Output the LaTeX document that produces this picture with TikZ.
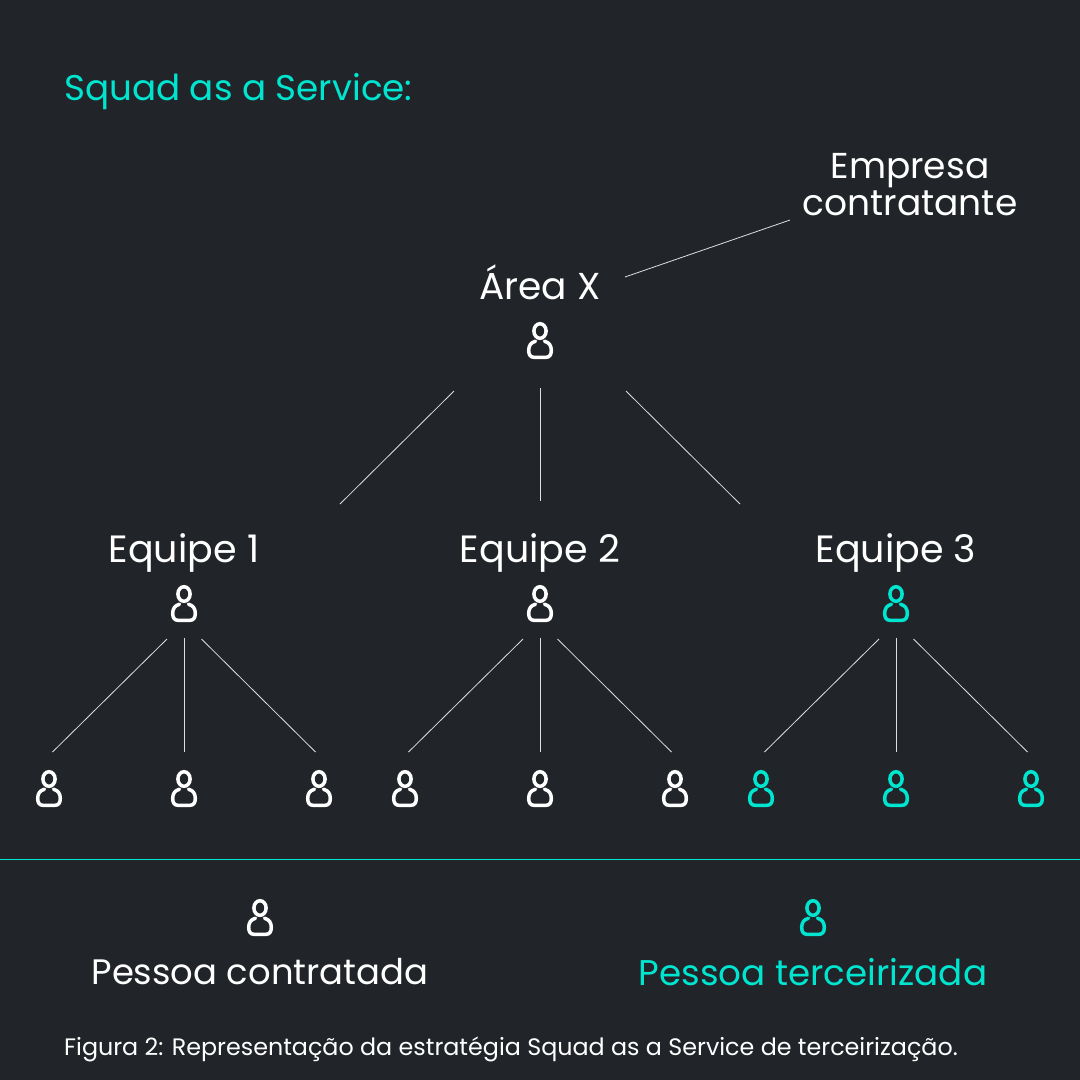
\documentclass[tikz,border=0pt]{standalone}
\usepackage{fontspec}
\setmainfont{Poppins}
\definecolor{bgdark}{HTML}{212529}
\definecolor{turq}{HTML}{00E5D0}
\tikzset{
  x=1pt,y=-1pt,
  label/.style={text=white,inner sep=0pt,font=\fontsize{35.7}{37}\selectfont,align=center},
  wire/.style={draw=white!85!bgdark,line width=0.8pt},
  person/.pic={
    \draw[line width=3.5pt,pic actions] (0,-11) ellipse (6.1 and 7.3);
    \draw[line width=3.5pt,line cap=round,line join=round,pic actions]
      (-4.5,-0.8) .. controls (-9.5,0.6) and (-11.3,4) .. (-11.3,8.5)
      .. controls (-11.3,12.8) and (-9.5,15.3) .. (-6,15.3) -- (6,15.3)
      .. controls (9.5,15.3) and (11.3,12.8) .. (11.3,8.5)
      .. controls (11.3,4) and (9.5,0.6) .. (4.5,-0.8);
  }
}
\begin{document}
\begin{tikzpicture}
  \useasboundingbox[fill=bgdark] (0,0) rectangle (1080,1080);
  \node[label,anchor=west,text=turq] (title) at (64,92) {Squad as a Service:};
  \node[label,font=\fontsize{36}{37}\selectfont] (empresa) at (910,185) {Empresa\\contratante};
  \node[label,font=\fontsize{37.5}{38}\selectfont] (area) at (540,282) {Área X};
  \node[label,font=\fontsize{38}{38}\selectfont] (eq1) at (184,553) {Equipe 1};
  \node[label,font=\fontsize{38}{38}\selectfont] (eq2) at (540,553) {Equipe 2};
  \node[label,font=\fontsize{38}{38}\selectfont] (eq3) at (896,553) {Equipe 3};
  \node[label,font=\fontsize{35.4}{37}\selectfont] (contratada) at (260,972) {Pessoa contratada};
  \node[label,text=turq] (terceirizada) at (813,972) {Pessoa terceirizada};
  \node[label,anchor=west,font=\fontsize{23.8}{26}\selectfont] (legenda) at (64,1049) {Figura 2: Representação da estratégia Squad as a Service de terceirização.};
  % people
  \foreach \px/\py/\pc in {540/342/white,184/605/white,540/605/white,896/605/turq,
    49/790/white,184/790/white,319/790/white,
    405/790/white,540/790/white,675/790/white,
    761/790/turq,896/790/turq,1031/790/turq,
    260/919/white,813/919/turq}
    \pic[draw=\pc] at (\px,\py) {person};
  % free ends of the connectors
  \coordinate (e0) at (790,220);
  \coordinate (e1) at (625,277);
  \coordinate (a1) at (454,391);
  \coordinate (a2) at (540.5,388);
  \coordinate (a3) at (626,391);
  \coordinate (b1) at (340,504);
  \coordinate (b2) at (540.5,501);
  \coordinate (b3) at (740,504);
  \coordinate (r0) at (0,859.5);
  \coordinate (r1) at (1080,859.5);
  \begin{scope}[wire]
    \draw (e0) to (e1);
    \draw (a1) to (b1);
    \draw (a2) to (b2);
    \draw (a3) to (b3);
    \foreach \n/\cx in {1/184.5,2/540.5,3/896.5}{
      \coordinate (t\n l) at (\cx-17.5,639);
      \coordinate (t\n m) at (\cx,638);
      \coordinate (t\n r) at (\cx+17,639);
      \coordinate (d\n l) at (\cx-132,752);
      \coordinate (d\n m) at (\cx,752);
      \coordinate (d\n r) at (\cx+131,752);
      \draw (t\n l) to (d\n l);
      \draw (t\n m) to (d\n m);
      \draw (t\n r) to (d\n r);
    }
    \draw[draw=turq] (r0) to (r1);
  \end{scope}
\end{tikzpicture}
\end{document}
